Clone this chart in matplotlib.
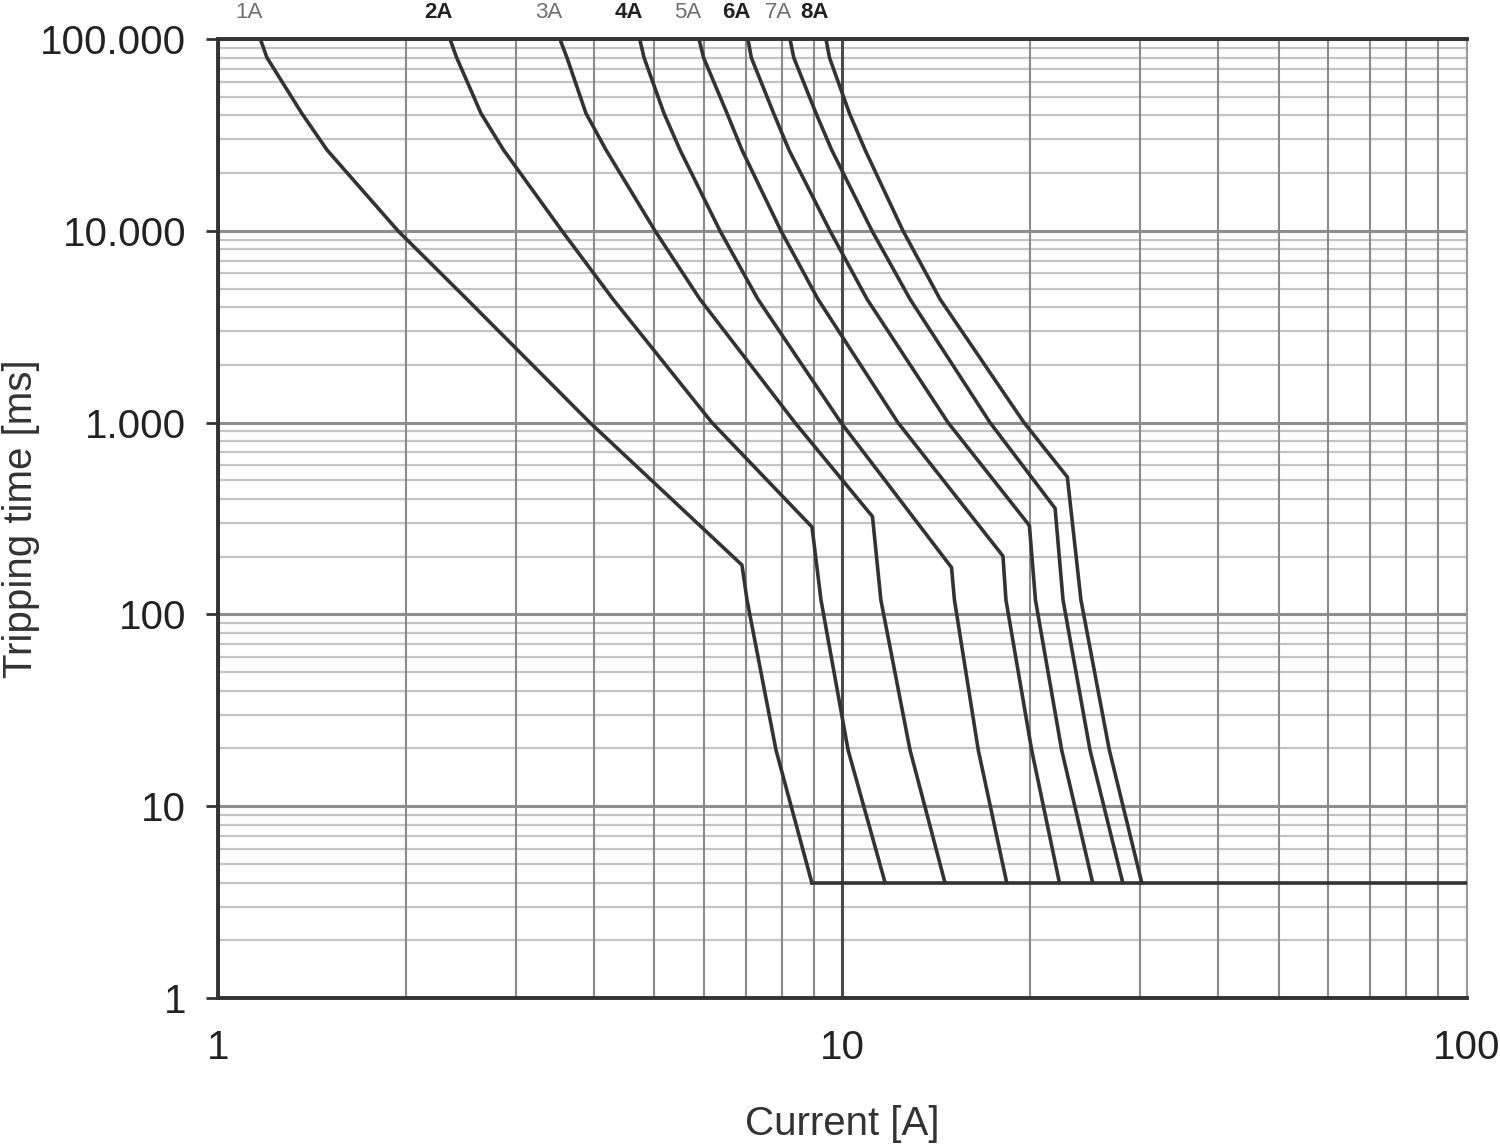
#!/usr/bin/env python3

import matplotlib.pyplot as plt
from matplotlib.ticker import FixedLocator, FixedFormatter, NullFormatter

plt.rcParams["font.family"] = ["Liberation Sans", "DejaVu Sans"]

# Breaker ratings (one curve each)
ratings = ["1A", "2A", "3A", "4A", "5A", "6A", "7A", "8A"]

# Thermal part: current [A] read at fixed tripping times [ms]
upper_times = [100000, 80000, 41000, 26400, 10000, 4400, 1000]
i_at_100000 = [1.169, 2.352, 3.528, 4.735, 5.891, 7.057, 8.240, 9.410]
i_at_80000 = [1.198, 2.411, 3.621, 4.811, 5.992, 7.145, 8.356, 9.532]
i_at_41000 = [1.362, 2.637, 3.884, 5.178, 6.533, 7.758, 9.070, 10.26]
i_at_26400 = [1.495, 2.866, 4.182, 5.494, 6.903, 8.210, 9.610, 10.87]
i_at_10000 = [1.942, 3.555, 5.010, 6.366, 7.970, 9.550, 11.15, 12.50]
i_at_4400 = [2.504, 4.291, 5.913, 7.321, 9.137, 10.95, 12.83, 14.33]
i_at_1000 = [3.941, 6.180, 8.392, 9.945, 12.27, 14.76, 17.23, 19.53]

# Knee between thermal and magnetic part
knee_current = [6.903, 8.937, 11.17, 14.95, 18.07, 19.92, 21.90, 22.91]
knee_time = [181.0, 285.6, 323.8, 175.6, 201.6, 290.8, 357.5, 520.4]

# Magnetic part
lower_times = [119, 19.6, 4]
i_at_119 = [7.033, 9.238, 11.52, 15.11, 18.27, 20.37, 22.55, 24.09]
i_at_19_6 = [7.827, 10.21, 12.83, 16.50, 20.09, 22.44, 24.91, 26.75]
i_at_4 = [8.93, 11.70, 14.59, 18.32, 22.25, 25.15, 28.10, 30.14]

min_time = 4
max_current = 100

y_ticks = [1, 10, 100, 1000, 10000, 100000]
y_tick_labels = ["1", "10", "100", "1.000", "10.000", "100.000"]
x_ticks = [1, 10, 100]
x_tick_labels = ["1", "10", "100"]

fig = plt.figure(figsize=(15, 11.44), dpi=100)
ax = fig.add_axes([0.1453, 0.1276, 0.8327, 0.8383])
ax.set_xscale("log")
ax.set_yscale("log")
ax.set_xlim(1, 100)
ax.set_ylim(1, 100000)

# Grid
minor_x = [m * d for d in (1, 10) for m in range(2, 10)]
minor_y = [m * d for d in (1, 10, 100, 1000, 10000) for m in range(2, 10)]
ax.xaxis.set_major_locator(FixedLocator(x_ticks))
ax.xaxis.set_major_formatter(FixedFormatter(x_tick_labels))
ax.xaxis.set_minor_locator(FixedLocator(minor_x))
ax.xaxis.set_minor_formatter(NullFormatter())
ax.yaxis.set_major_locator(FixedLocator(y_ticks))
ax.yaxis.set_major_formatter(FixedFormatter(y_tick_labels))
ax.yaxis.set_minor_locator(FixedLocator(minor_y))
ax.yaxis.set_minor_formatter(NullFormatter())

ax.grid(which="major", axis="x", color="#4a4a4a", linewidth=2.2)
ax.grid(which="minor", axis="x", color="#8a8a8a", linewidth=1.5)
ax.grid(which="major", axis="y", color="#8e8e8e", linewidth=2.2)
ax.grid(which="minor", axis="y", color="#c4c4c4", linewidth=1.6)
ax.set_axisbelow(True)
ax.xaxis.set_zorder(0.6)  # vertical grid lines over the horizontal ones

# Curves
for k, name in enumerate(ratings):
    cur = [i_at_100000[k], i_at_80000[k], i_at_41000[k], i_at_26400[k],
           i_at_10000[k], i_at_4400[k], i_at_1000[k], knee_current[k],
           i_at_119[k], i_at_19_6[k], i_at_4[k]]
    tim = upper_times + [knee_time[k]] + lower_times
    ax.plot(cur, tim, color="#333333", linewidth=2.6, solid_joinstyle="round",
            zorder=3)
    bold = k % 2 == 1
    ax.text(i_at_100000[k] * 0.96, 138000, name, ha="center", va="center",
            fontsize=16, fontweight="bold" if bold else "normal",
            color="#222222" if bold else "#6e6e6e", clip_on=False)

# Instantaneous tripping floor
ax.plot([i_at_4[0], max_current], [min_time, min_time], color="#333333",
        linewidth=2.6, zorder=3)

# Axes frame
for side in ("left", "bottom", "top"):
    ax.spines[side].set_color("#333333")
    ax.spines[side].set_linewidth(2.8)
ax.spines["right"].set_color("#999999")
ax.spines["right"].set_linewidth(1.5)

ax.tick_params(axis="y", which="major", length=9, width=2, color="#333333",
               labelsize=29, pad=14, labelcolor="#222222")
ax.tick_params(axis="y", which="minor", length=0)
ax.tick_params(axis="x", which="both", length=0, labelsize=29, pad=22,
               labelcolor="#222222")

ax.set_xlabel("Current [A]", fontsize=29, color="#333333", labelpad=28)
ax.set_ylabel("Tripping time [ms]", fontsize=29, color="#333333", labelpad=0)

plt.savefig("out.png", dpi=100)
